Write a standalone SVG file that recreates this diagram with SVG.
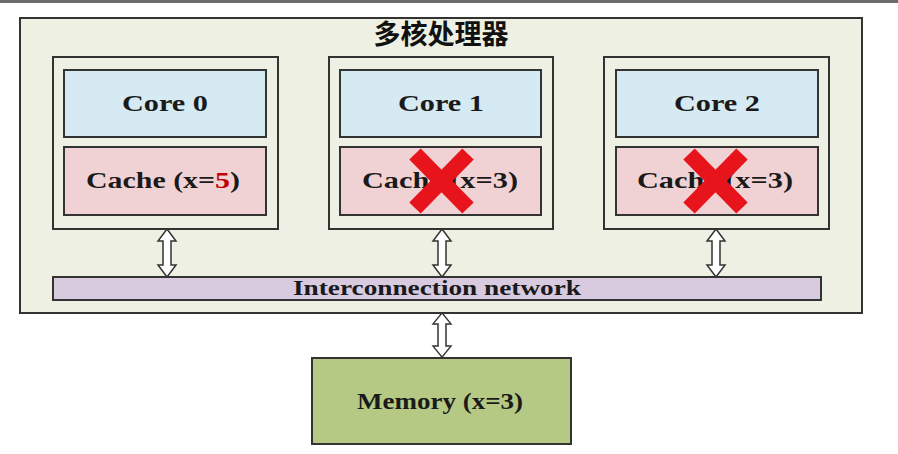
<svg xmlns="http://www.w3.org/2000/svg" width="898" height="454" viewBox="0 0 898 454">
<style>
.box{fill:#eef0e3;stroke:#333;stroke-width:2}
.core{fill:#d5eaf2;stroke:#333;stroke-width:2}
.cache{fill:#f0d2d4;stroke:#333;stroke-width:2}
.t{font-family:"Liberation Serif",serif;font-weight:bold;font-size:24px;fill:#1a1a1a;text-anchor:middle}
.arr{fill:#fff;stroke:#333;stroke-width:1.5}
.x{stroke:#e8141c;stroke-width:16;stroke-linecap:butt}
</style>
<defs>
<path id="dbl" d="M0,-24 L9,-12 L4,-12 L4,12 L9,12 L0,24 L-9,12 L-4,12 L-4,-12 L-9,-12 Z"/>
</defs>
<rect x="0" y="0" width="898" height="454" fill="#ffffff"/>
<rect x="0" y="0" width="898" height="3" fill="#6a6a6a"/>
<g id="processor">
<rect class="box" x="20" y="18" width="842" height="295"/>
<text x="441" y="44" font-family="'Noto Sans CJK SC',sans-serif" font-weight="bold" font-size="27" text-anchor="middle" fill="#111">多核处理器</text>
</g>
<g id="core0">
<rect class="box" x="53" y="57" width="225" height="172"/>
<rect class="core" x="64" y="70" width="202" height="67"/>
<text class="t" x="165" y="111" textLength="86" lengthAdjust="spacingAndGlyphs">Core 0</text>
</g>
<g id="cache0">
<rect class="cache" x="64" y="147" width="202" height="68"/>
<text class="t" x="163" y="188" textLength="154" lengthAdjust="spacingAndGlyphs">Cache (x=<tspan fill="#c00000">5</tspan>)</text>
</g>
<g id="core1">
<rect class="box" x="329" y="57" width="224" height="172"/>
<rect class="core" x="340" y="70" width="201" height="67"/>
<text class="t" x="441" y="111" textLength="86" lengthAdjust="spacingAndGlyphs">Core 1</text>
</g>
<g id="cache1">
<rect class="cache" x="340" y="147" width="201" height="68"/>
<text class="t" x="440" y="188" textLength="156" lengthAdjust="spacingAndGlyphs">Cache (x=3)</text>
<path class="x" d="M415,154 L468,208 M468,154 L415,208"/>
</g>
<g id="core2">
<rect class="box" x="604" y="57" width="225" height="172"/>
<rect class="core" x="616" y="70" width="202" height="67"/>
<text class="t" x="717" y="111" textLength="86" lengthAdjust="spacingAndGlyphs">Core 2</text>
</g>
<g id="cache2">
<rect class="cache" x="616" y="147" width="202" height="68"/>
<text class="t" x="715" y="188" textLength="156" lengthAdjust="spacingAndGlyphs">Cache (x=3)</text>
<path class="x" d="M689,154 L742,208 M742,154 L689,208"/>
</g>
<g id="network">
<rect x="53" y="277" width="768" height="23" fill="#d8cbe0" stroke="#333" stroke-width="2"/>
<text x="437" y="295" font-family="'Liberation Serif',serif" font-weight="bold" font-size="20" text-anchor="middle" fill="#1a1a1a" textLength="288" lengthAdjust="spacingAndGlyphs">Interconnection network</text>
</g>
<g id="memory">
<rect x="312" y="358" width="259" height="86" fill="#b5c985" stroke="#333" stroke-width="2"/>
<text class="t" x="440" y="409" textLength="166" lengthAdjust="spacingAndGlyphs">Memory (x=3)</text>
</g>
<g id="connectors">
<use href="#dbl" class="arr" transform="translate(167,253)"/>
<use href="#dbl" class="arr" transform="translate(442,253)"/>
<use href="#dbl" class="arr" transform="translate(716,253)"/>
<use href="#dbl" class="arr" transform="translate(442,335) scale(1,0.92)"/>
</g>
</svg>
